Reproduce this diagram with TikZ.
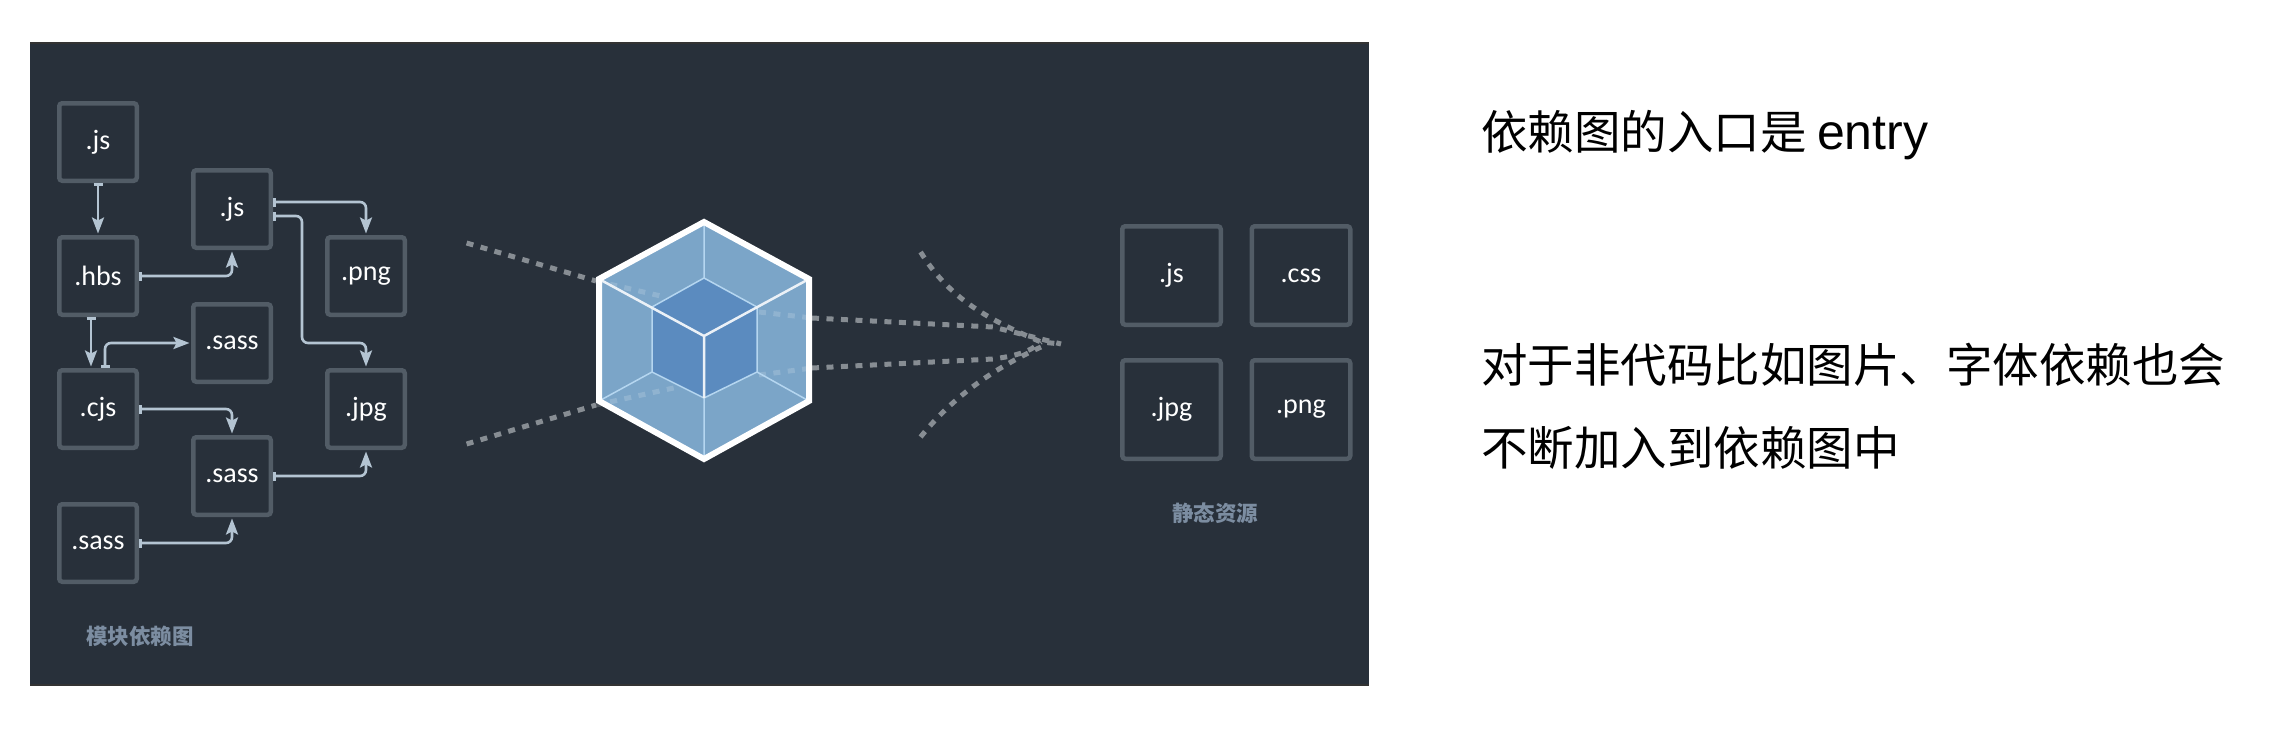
\documentclass[tikz,border=0pt]{standalone}
\usepackage{fontspec}
\setmainfont{Liberation Sans}
\newfontfamily\cjk{Noto Sans CJK SC}
\newfontfamily\boxfont{Carlito}
\usetikzlibrary{arrows.meta}
\definecolor{panel}{HTML}{28303A}
\definecolor{edgeline}{HTML}{525C66}
\definecolor{conncol}{HTML}{B4C4D2}
\definecolor{dashcol}{HTML}{878D93}
\definecolor{hexlight}{HTML}{7BA5C8}
\definecolor{hexdark}{HTML}{5B8BBF}
\definecolor{hexline}{HTML}{B5D6F0}
\definecolor{caption}{HTML}{7C8DA1}
\tikzset{
  x=1pt,y=-1pt,
  filebox/.style={draw=edgeline,line width=4.5pt,rounded corners=3pt,minimum size=77.5pt,inner sep=0pt,text=white,font=\boxfont\fontsize{28}{28}\selectfont},
  bigbox/.style={filebox,minimum size=98.5pt},
  conn/.style={draw=conncol,line width=2.6pt,rounded corners=6pt,shorten >=1.5pt,
    arrows={{Bar[width=9pt,length=2.5pt]}-{Stealth[length=16pt,width=12pt,inset=3pt]}}},
  dots/.style={draw=dashcol,line width=5pt,dash pattern=on 7pt off 7.5pt},
  faintdots/.style={draw=white,draw opacity=.16,line width=5pt,dash pattern=on 7pt off 7.5pt},
  captiontext/.style={text=caption,font=\cjk\bfseries\fontsize{21.5}{21.5}\selectfont,inner sep=0pt},
  notetext/.style={anchor=base west,inner sep=0pt,text=black,font=\cjk\fontsize{46.5}{46.5}\selectfont},
}
\newcommand{\lbl}[1]{\raisebox{-1.5pt}{#1}}
\begin{document}
\begin{tikzpicture}
\useasboundingbox (0,0) rectangle (2294,731);
\fill[white] (0,0) rectangle (2294,731);
\fill[panel] (30,43) rectangle (1369,685);
\draw[black!80,line width=1.2pt] (30,43) -- (1369,43);
\draw[black!80,line width=1.2pt] (30,685) -- (1369,685);

% left graph
\node[filebox] (js1) at (98,142) {\lbl{.js}};
\node[filebox] (hbs) at (98,276) {\lbl{.hbs}};
\node[filebox] (cjs) at (98,409) {\lbl{.cjs}};
\node[filebox] (sassa) at (98,543) {\lbl{.sass}};
\node[filebox] (js2) at (232,209) {\lbl{.js}};
\node[filebox] (sassb) at (232,343) {\lbl{.sass}};
\node[filebox] (sassc) at (232,476) {\lbl{.sass}};
\node[filebox] (png) at (366,276) {\lbl{.png}};
\node[filebox] (jpg) at (366,409) {\lbl{.jpg}};
\coordinate (bendj) at (302,343);

\draw[conn] (js1.south) -- (hbs.north);
\draw[conn] (hbs.east) -| (js2.south);
\draw[conn] ([yshift=7pt]js2.east) -| (png.north);
\draw[conn] ([yshift=-7pt]js2.east) -| (bendj) -| (jpg.north);
\draw[conn] ([xshift=-7pt]hbs.south) -- ([xshift=-7pt]cjs.north);
\draw[conn] ([xshift=7pt]cjs.north) |- (sassb.west);
\draw[conn] (cjs.east) -| (sassc.north);
\draw[conn] (sassc.east) -| (jpg.south);
\draw[conn] (sassa.east) -| (sassc.south);

\node[captiontext] (capl) at (140,636) {模块依赖图};

% dotted flows
\coordinate (la) at (466.6,243);
\coordinate (lb) at (596,281);
\coordinate (lc) at (665,297);
\coordinate (ma) at (466.6,444);
\coordinate (mb) at (596,405);
\coordinate (mc) at (678,387);
\coordinate (ra) at (759,312);
\coordinate (rb) at (812,318);
\coordinate (rc) at (993,327);
\coordinate (sa) at (759,375);
\coordinate (sb) at (812,368);
\coordinate (sc) at (993,359);
\coordinate (hub) at (1061,344);
\coordinate (ta) at (920.6,252);
\coordinate (tb) at (1041,342);
\coordinate (ua) at (920.6,437);
\coordinate (ub) at (1041,347);
\draw[dots] (la) -- (lb);
\draw[dots] (ma) -- (mb);
\draw[dots] (rb) -- (rc) -- (hub);
\draw[dots] (sb) -- (sc) .. controls (1015,356) and (1030,352) .. (tb);
\draw[dots] (ta) .. controls (950,300) and (990,320) .. (tb) -- (hub);
\draw[dots] (ua) .. controls (950,400) and (990,370) .. (ub);

% cube
\coordinate (ot) at (704,222);
\coordinate (our) at (809,279);
\coordinate (olr) at (809,401);
\coordinate (ob) at (704,459);
\coordinate (oll) at (599,401);
\coordinate (oul) at (599,279);
\coordinate (it) at (704,278);
\coordinate (iur) at (757,307);
\coordinate (ilr) at (757,372);
\coordinate (ib) at (704,398);
\coordinate (ill) at (652,372);
\coordinate (iul) at (652,307);
\coordinate (ic) at (704,336);
\fill[hexlight] (ot) -- (our) -- (olr) -- (ob) -- (oll) -- (oul) -- cycle;
\fill[hexdark] (it) -- (iur) -- (ilr) -- (ib) -- (ill) -- (iul) -- cycle;
\draw[faintdots] (lb) -- (lc);
\draw[faintdots] (mb) -- (mc);
\draw[faintdots] (ra) -- (rb);
\draw[faintdots] (sa) -- (sb);
\draw[hexline,line width=1.5pt,line join=round] (it) -- (iur) -- (ilr) -- (ib) -- (ill) -- (iul) -- cycle;
\draw[hexline,line width=1.5pt] (ot) -- (it) (olr) -- (ilr) (ob) -- (ib) (oll) -- (ill);
\draw[white!85!hexlight,line width=2.5pt] (oul) -- (ic) -- (our) (ic) -- (ib);
\draw[white,line width=6pt,line join=miter] (ot) -- (our) -- (olr) -- (ob) -- (oll) -- (oul) -- cycle;

% right boxes
\node[bigbox] (outjs) at (1171.5,275.5) {\lbl{.js}};
\node[bigbox] (outcss) at (1301,275.5) {\lbl{.css}};
\node[bigbox] (outjpg) at (1171.5,409.5) {\lbl{.jpg}};
\node[bigbox] (outpng) at (1301,409.5) {\lbl{.png}};
\node[captiontext] (capr) at (1215,513) {静态资源};

% notes
\node[notetext] (noteone) at (1481,149) {依赖图的入口是 {\rmfamily\fontsize{50}{50}\selectfont entry}};
\node[notetext] (notetwo) at (1481,382) {对于非代码比如图片、字体依赖也会};
\node[notetext] (notethree) at (1481,465) {不断加入到依赖图中};
\end{tikzpicture}
\end{document}
